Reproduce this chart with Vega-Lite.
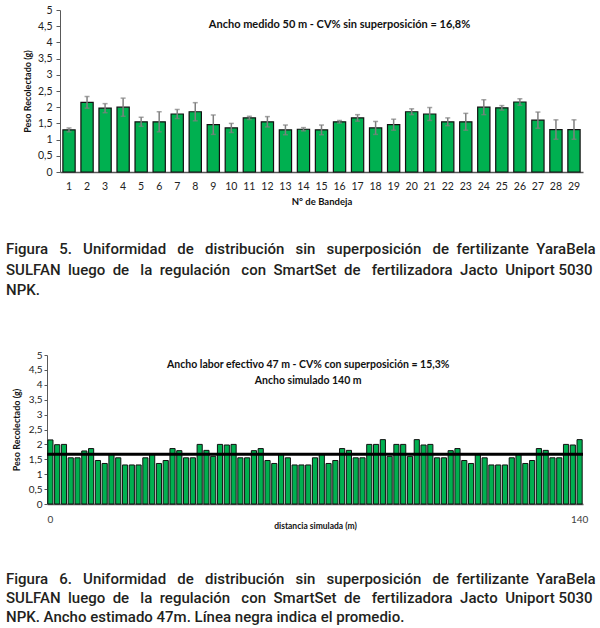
{
  "$schema": "https://vega.github.io/schema/vega-lite/v6.json",
  "padding": {"left": 6, "top": 5, "right": 2, "bottom": 2},
  "background": "white",
  "spacing": 52,
  "vconcat": [
    {
      "width": 536,
      "height": 162,
      "title": {
        "text": [
          "Figura \u00a0\u00a05. \u00a0\u00a0Uniformidad \u00a0\u00a0de \u00a0\u00a0distribución \u00a0\u00a0sin \u00a0\u00a0superposición \u00a0\u00a0de \u00a0fertilizante \u00a0YaraBela",
          "SULFAN \u00a0luego \u00a0de \u00a0\u00a0la \u00a0regulación \u00a0\u00a0con \u00a0SmartSet \u00a0de \u00a0\u00a0fertilizadora \u00a0Jacto \u00a0Uniport 5030",
          "NPK."
        ],
        "orient": "bottom", "anchor": "start", "frame": "group",
        "dx": -41, "offset": 36,
        "font": "Roboto", "fontSize": 15, "fontWeight": 500, "color": "#231f20", "lineHeight": 20.5
      },
      "encoding": {
        "x": {
          "field": "bandeja", "type": "ordinal", "title": "N° de Bandeja",
          "scale": {"range": [13, 536], "paddingInner": 0.32, "paddingOuter": 0.16},
          "axis": {
            "labelAngle": 0, "ticks": false, "labelPadding": 9, "labelFontSize": 10.5,
            "titleFontSize": 9.5, "titlePadding": 5, "domainColor": "#595959", "domainWidth": 1.5
          }
        }
      },
      "layer": [
        {
          "data": {
            "values": [
              {"bandeja": 1, "peso": 1.30, "de": 0.06},
              {"bandeja": 2, "peso": 2.15, "de": 0.18},
              {"bandeja": 3, "peso": 1.97, "de": 0.14},
              {"bandeja": 4, "peso": 2.00, "de": 0.28},
              {"bandeja": 5, "peso": 1.55, "de": 0.14},
              {"bandeja": 6, "peso": 1.55, "de": 0.31},
              {"bandeja": 7, "peso": 1.79, "de": 0.14},
              {"bandeja": 8, "peso": 1.86, "de": 0.28},
              {"bandeja": 9, "peso": 1.46, "de": 0.30},
              {"bandeja": 10, "peso": 1.36, "de": 0.14},
              {"bandeja": 11, "peso": 1.67, "de": 0.05},
              {"bandeja": 12, "peso": 1.55, "de": 0.16},
              {"bandeja": 13, "peso": 1.30, "de": 0.15},
              {"bandeja": 14, "peso": 1.32, "de": 0.05},
              {"bandeja": 15, "peso": 1.30, "de": 0.15},
              {"bandeja": 16, "peso": 1.55, "de": 0.04},
              {"bandeja": 17, "peso": 1.67, "de": 0.10},
              {"bandeja": 18, "peso": 1.36, "de": 0.20},
              {"bandeja": 19, "peso": 1.46, "de": 0.17},
              {"bandeja": 20, "peso": 1.86, "de": 0.09},
              {"bandeja": 21, "peso": 1.79, "de": 0.20},
              {"bandeja": 22, "peso": 1.55, "de": 0.12},
              {"bandeja": 23, "peso": 1.55, "de": 0.26},
              {"bandeja": 24, "peso": 2.00, "de": 0.23},
              {"bandeja": 25, "peso": 1.98, "de": 0.07},
              {"bandeja": 26, "peso": 2.16, "de": 0.10},
              {"bandeja": 27, "peso": 1.60, "de": 0.25},
              {"bandeja": 28, "peso": 1.31, "de": 0.30},
              {"bandeja": 29, "peso": 1.31, "de": 0.30}
            ]
          },
          "layer": [
            {
              "mark": {"type": "bar", "color": "#00b050", "stroke": "#111111", "strokeWidth": 1.2},
              "encoding": {
                "y": {
                  "field": "peso", "type": "quantitative", "title": "Peso  Recolectado (g)",
                  "scale": {"domain": [0, 5], "nice": false},
                  "axis": {
                    "values": [0, 0.5, 1, 1.5, 2, 2.5, 3, 3.5, 4, 4.5, 5],
                    "tickCount": 11, "format": ".1~f",
                    "labelExpr": "replace(datum.label, '.', ',')",
                    "labelOverlap": false, "labelSeparation": 0, "offset": -13,
                    "grid": false, "tickSize": 4, "labelPadding": 4, "labelFontSize": 10.5,
                    "titleFontSize": 9, "titlePadding": 5, "domainColor": "#595959", "tickColor": "#595959"
                  }
                }
              }
            },
            {
              "mark": {"type": "errorbar", "color": "#7f7f7f", "ticks": {"size": 5}, "thickness": 1.5},
              "encoding": {
                "y": {"field": "peso", "type": "quantitative", "title": "Peso  Recolectado (g)"},
                "yError": {"field": "de"}
              }
            }
          ]
        },
        {
          "data": {"values": [{"nota": "Ancho medido 50 m - CV% sin superposición = 16,8%"}]},
          "mark": {"type": "text", "font": "Lato", "fontWeight": "bold", "fontSize": 11, "color": "#111111"},
          "encoding": {
            "x": {"datum": 16, "type": "ordinal"},
            "y": {"datum": 4.55, "type": "quantitative"},
            "text": {"field": "nota"}
          }
        }
      ]
    },
    {
      "width": 536,
      "height": 149,
      "title": {
        "text": [
          "Figura \u00a0\u00a06. \u00a0\u00a0Uniformidad \u00a0\u00a0de \u00a0\u00a0distribución \u00a0\u00a0sin \u00a0\u00a0superposición \u00a0\u00a0de \u00a0fertilizante \u00a0YaraBela",
          "SULFAN \u00a0luego \u00a0de \u00a0\u00a0la \u00a0regulación \u00a0\u00a0con \u00a0SmartSet \u00a0de \u00a0\u00a0fertilizadora \u00a0Jacto \u00a0Uniport 5030",
          "NPK. Ancho estimado 47m. Línea negra indica el promedio."
        ],
        "orient": "bottom", "anchor": "start", "frame": "group",
        "dx": -41, "offset": 42,
        "font": "Roboto", "fontSize": 15, "fontWeight": 500, "color": "#231f20", "lineHeight": 19
      },
      "layer": [
        {
          "data": {
            "values": [
              {"pos": 1, "peso": 2.15}, {"pos": 2, "peso": 1.99}, {"pos": 3, "peso": 2.0},
              {"pos": 4, "peso": 1.55}, {"pos": 5, "peso": 1.55}, {"pos": 6, "peso": 1.78},
              {"pos": 7, "peso": 1.86}, {"pos": 8, "peso": 1.46}, {"pos": 9, "peso": 1.36},
              {"pos": 10, "peso": 1.67}, {"pos": 11, "peso": 1.55}, {"pos": 12, "peso": 1.31},
              {"pos": 13, "peso": 1.31}, {"pos": 14, "peso": 1.31}, {"pos": 15, "peso": 1.55},
              {"pos": 16, "peso": 1.67}, {"pos": 17, "peso": 1.36}, {"pos": 18, "peso": 1.46},
              {"pos": 19, "peso": 1.86}, {"pos": 20, "peso": 1.79}, {"pos": 21, "peso": 1.55},
              {"pos": 22, "peso": 1.55}, {"pos": 23, "peso": 2.0}, {"pos": 24, "peso": 1.8},
              {"pos": 25, "peso": 1.6}, {"pos": 26, "peso": 2.0}, {"pos": 27, "peso": 1.98},
              {"pos": 28, "peso": 2.0}, {"pos": 29, "peso": 1.55}, {"pos": 30, "peso": 1.55},
              {"pos": 31, "peso": 1.79}, {"pos": 32, "peso": 1.86}, {"pos": 33, "peso": 1.46},
              {"pos": 34, "peso": 1.36}, {"pos": 35, "peso": 1.67}, {"pos": 36, "peso": 1.55},
              {"pos": 37, "peso": 1.31}, {"pos": 38, "peso": 1.31}, {"pos": 39, "peso": 1.31},
              {"pos": 40, "peso": 1.55}, {"pos": 41, "peso": 1.67}, {"pos": 42, "peso": 1.36},
              {"pos": 43, "peso": 1.46}, {"pos": 44, "peso": 1.86}, {"pos": 45, "peso": 1.8},
              {"pos": 46, "peso": 1.55}, {"pos": 47, "peso": 1.55}, {"pos": 48, "peso": 2.0},
              {"pos": 49, "peso": 2.0}, {"pos": 50, "peso": 2.16}, {"pos": 51, "peso": 1.6},
              {"pos": 52, "peso": 2.0}, {"pos": 53, "peso": 2.0}, {"pos": 54, "peso": 1.6},
              {"pos": 55, "peso": 2.16}, {"pos": 56, "peso": 1.98}, {"pos": 57, "peso": 2.0},
              {"pos": 58, "peso": 1.55}, {"pos": 59, "peso": 1.55}, {"pos": 60, "peso": 1.79},
              {"pos": 61, "peso": 1.86}, {"pos": 62, "peso": 1.46}, {"pos": 63, "peso": 1.36},
              {"pos": 64, "peso": 1.67}, {"pos": 65, "peso": 1.55}, {"pos": 66, "peso": 1.31},
              {"pos": 67, "peso": 1.31}, {"pos": 68, "peso": 1.31}, {"pos": 69, "peso": 1.55},
              {"pos": 70, "peso": 1.67}, {"pos": 71, "peso": 1.36}, {"pos": 72, "peso": 1.46},
              {"pos": 73, "peso": 1.86}, {"pos": 74, "peso": 1.8}, {"pos": 75, "peso": 1.55},
              {"pos": 76, "peso": 1.55}, {"pos": 77, "peso": 2.0}, {"pos": 78, "peso": 1.98},
              {"pos": 79, "peso": 2.16}
            ]
          },
          "mark": {"type": "bar", "color": "#00b050", "stroke": "#111111", "strokeWidth": 1},
          "encoding": {
            "x": {
              "field": "pos", "type": "ordinal", "title": "distancia simulada (m)",
              "scale": {"paddingInner": 0.24, "paddingOuter": 0.12},
              "axis": {
                "labelAngle": 0, "ticks": false, "labelPadding": 10, "labelFontSize": 10,
                "labelOverlap": false, "labelColor": "#404040",
                "labelExpr": "datum.value == 1 ? '0' : (datum.value == 79 ? '140' : '')",
                "titleFontSize": 8.5, "titlePadding": -3, "domainColor": "#595959", "domainWidth": 1.5
              }
            },
            "y": {
              "field": "peso", "type": "quantitative", "title": "Peso  Recolectado (g)",
              "scale": {"domain": [0, 5], "nice": false},
              "axis": {
                "values": [0, 0.5, 1, 1.5, 2, 2.5, 3, 3.5, 4, 4.5, 5],
                "tickCount": 11, "format": ".1~f",
                "labelExpr": "replace(datum.label, '.', ',')",
                "labelOverlap": false, "labelSeparation": 0,
                "grid": false, "tickSize": 3, "labelPadding": 2, "labelFontSize": 10,
                "titleFontSize": 9, "titlePadding": 7, "domainColor": "#595959", "tickColor": "#595959"
              }
            }
          }
        },
        {
          "data": {"values": [{"promedio": 1.67}]},
          "mark": {"type": "rule", "color": "#000000", "strokeWidth": 3},
          "encoding": {"y": {"field": "promedio", "type": "quantitative"}}
        },
        {
          "data": {"values": [{"nota": ["Ancho labor efectivo 47 m - CV% con superposición = 15,3%", "Ancho simulado 140 m"]}]},
          "mark": {"type": "text", "font": "Lato", "fontWeight": "bold", "fontSize": 10.5, "color": "#111111", "lineHeight": 16.4},
          "encoding": {
            "x": {"datum": 39, "type": "ordinal"},
            "y": {"datum": 4.67, "type": "quantitative"},
            "text": {"field": "nota"}
          }
        }
      ]
    }
  ],
  "config": {
    "view": {"stroke": null},
    "font": "Lato",
    "axis": {"labelFont": "Lato", "titleFont": "Lato", "labelColor": "#222222", "titleColor": "#111111", "titleFontWeight": "bold", "labelOverlap": false}
  }
}
